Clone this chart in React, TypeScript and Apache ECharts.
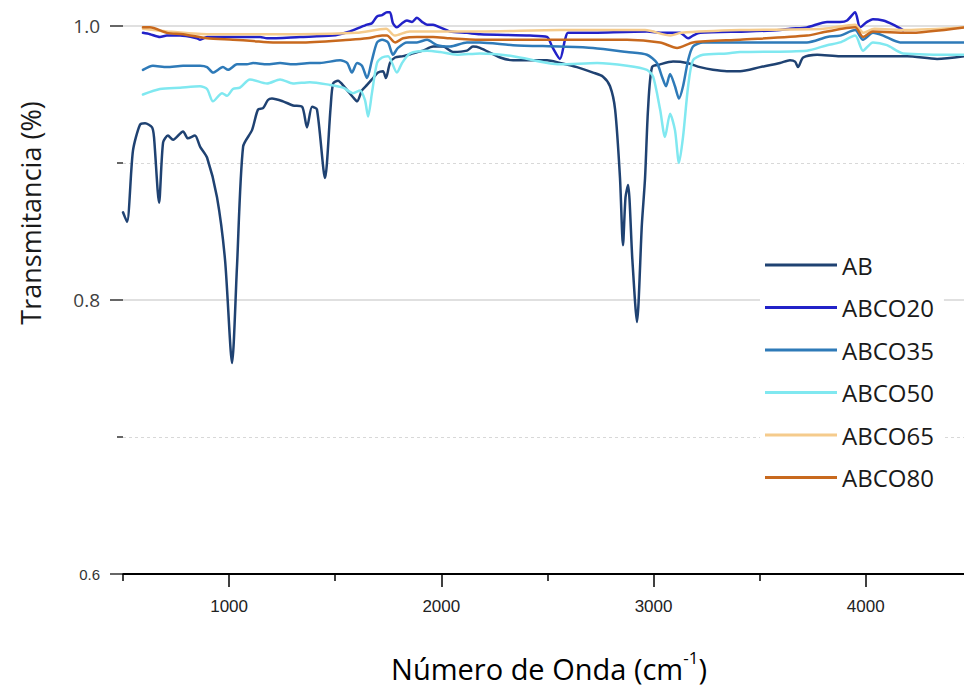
import React, { useEffect, useRef } from "react";
import * as echarts from "echarts";

// [wavenumber (cm-1), transmittance]
const AB: [number, number][] = [
  [500, 0.864], [519, 0.857], [547, 0.909], [580, 0.928], [604, 0.929], [637, 0.926], [646, 0.919],
  [670, 0.871], [689, 0.915], [712, 0.92], [736, 0.917], [783, 0.923], [806, 0.918], [839, 0.92],
  [863, 0.912], [896, 0.904], [943, 0.875], [981, 0.829], [1014, 0.754], [1037, 0.824], [1066, 0.912],
  [1108, 0.924], [1136, 0.939], [1160, 0.94], [1183, 0.946], [1202, 0.947], [1254, 0.945], [1301, 0.942],
  [1344, 0.941], [1367, 0.926], [1391, 0.941], [1414, 0.939], [1452, 0.889], [1478, 0.94], [1490, 0.958],
  [1513, 0.96], [1546, 0.955], [1584, 0.948], [1603, 0.945], [1626, 0.953], [1650, 0.957], [1673, 0.961],
  [1702, 0.966], [1725, 0.967], [1739, 0.962], [1758, 0.973], [1782, 0.977], [1820, 0.978], [1867, 0.98],
  [1914, 0.982], [1961, 0.985], [2008, 0.985], [2055, 0.981], [2121, 0.982], [2149, 0.985], [2182, 0.984],
  [2277, 0.977], [2338, 0.975], [2498, 0.975], [2559, 0.973], [2639, 0.97], [2715, 0.966], [2762, 0.963],
  [2795, 0.956], [2819, 0.939], [2842, 0.889], [2856, 0.84], [2868, 0.875], [2880, 0.884], [2900, 0.83],
  [2922, 0.784], [2945, 0.855], [2960, 0.889], [2974, 0.939], [2993, 0.97], [3031, 0.972], [3092, 0.974],
  [3158, 0.973], [3219, 0.97], [3280, 0.968], [3346, 0.967], [3408, 0.967], [3502, 0.97], [3596, 0.973],
  [3643, 0.975], [3667, 0.974], [3681, 0.97], [3705, 0.977], [3771, 0.979], [3879, 0.978], [4034, 0.978],
  [4195, 0.978], [4336, 0.976], [4463, 0.978],
];

const ABCO20: [number, number][] = [
  [594, 0.995], [627, 0.994], [674, 0.992], [707, 0.993], [769, 0.993], [849, 0.991], [863, 0.99],
  [896, 0.992], [1018, 0.992], [1146, 0.992], [1179, 0.991], [1334, 0.992], [1485, 0.993], [1570, 0.996],
  [1617, 0.999], [1650, 1.001], [1673, 1.002], [1697, 1.007], [1721, 1.008], [1744, 1.01], [1758, 1.01],
  [1772, 1.002], [1791, 0.999], [1815, 1.002], [1838, 1.004], [1862, 1.003], [1885, 1.006], [1909, 1.003],
  [1933, 1.001], [1961, 1.001], [1994, 0.999], [2041, 0.996], [2121, 0.995], [2182, 0.994], [2418, 0.993],
  [2498, 0.992], [2522, 0.985], [2559, 0.976], [2583, 0.99], [2597, 0.995], [2654, 0.995], [2969, 0.996],
  [3045, 0.995], [3125, 0.995], [3163, 0.991], [3186, 0.993], [3219, 0.995], [3441, 0.996], [3596, 0.997],
  [3643, 0.998], [3723, 0.999], [3818, 1.003], [3846, 1.003], [3879, 1.003], [3912, 1.004], [3950, 1.01],
  [3973, 0.999], [4006, 1.003], [4034, 1.005], [4082, 1.004], [4129, 1.001], [4176, 0.997],
];

const ABCO35: [number, number][] = [
  [594, 0.968], [641, 0.971], [707, 0.97], [783, 0.971], [863, 0.971], [896, 0.97], [924, 0.966],
  [971, 0.97], [995, 0.968], [1037, 0.972], [1084, 0.972], [1113, 0.973], [1179, 0.972], [1240, 0.973],
  [1301, 0.972], [1381, 0.973], [1428, 0.973], [1523, 0.975], [1556, 0.973], [1579, 0.966], [1603, 0.973],
  [1626, 0.971], [1650, 0.962], [1673, 0.975], [1697, 0.988], [1721, 0.99], [1749, 0.988], [1772, 0.979],
  [1796, 0.984], [1838, 0.988], [1885, 0.988], [1933, 0.99], [1980, 0.986], [2041, 0.985], [2121, 0.988],
  [2182, 0.988], [2338, 0.986], [2559, 0.985], [2715, 0.984], [2875, 0.981], [2969, 0.979], [3016, 0.973],
  [3040, 0.963], [3059, 0.956], [3078, 0.965], [3101, 0.956], [3120, 0.947], [3139, 0.956], [3163, 0.975],
  [3186, 0.985], [3233, 0.988], [3346, 0.988], [3408, 0.988], [3723, 0.988], [3818, 0.992], [3879, 0.993],
  [3950, 0.997], [3987, 0.99], [4034, 0.995], [4082, 0.993], [4162, 0.988], [4223, 0.988], [4463, 0.988],
];

const ABCO50: [number, number][] = [
  [594, 0.95], [674, 0.954], [769, 0.955], [863, 0.956], [896, 0.954], [924, 0.945], [967, 0.951],
  [990, 0.949], [1018, 0.954], [1051, 0.955], [1098, 0.961], [1179, 0.958], [1240, 0.961], [1301, 0.958],
  [1381, 0.959], [1475, 0.957], [1537, 0.955], [1584, 0.951], [1617, 0.953], [1640, 0.946], [1655, 0.934],
  [1673, 0.951], [1697, 0.973], [1721, 0.977], [1749, 0.978], [1791, 0.966], [1815, 0.973], [1853, 0.98],
  [1933, 0.982], [1994, 0.981], [2074, 0.979], [2182, 0.98], [2338, 0.978], [2559, 0.972], [2734, 0.973],
  [2875, 0.971], [2969, 0.968], [2998, 0.963], [3031, 0.939], [3054, 0.919], [3078, 0.936], [3101, 0.924],
  [3120, 0.9], [3139, 0.919], [3163, 0.956], [3186, 0.975], [3233, 0.979], [3346, 0.98], [3408, 0.981],
  [3723, 0.982], [3818, 0.986], [3879, 0.988], [3950, 0.993], [3987, 0.982], [4034, 0.988], [4100, 0.986],
  [4176, 0.98], [4463, 0.979],
];

const ABCO65: [number, number][] = [
  [594, 0.998], [707, 0.996], [896, 0.994], [1334, 0.994], [1600, 0.995], [1740, 0.998], [1780, 0.993],
  [1850, 0.996], [2182, 0.996], [2559, 0.997], [2960, 0.997], [3080, 0.993], [3130, 0.995], [3408, 0.997],
  [3800, 0.998], [3950, 1.001], [3990, 0.995], [4040, 0.998], [4195, 0.997], [4463, 0.999],
];

const ABCO80: [number, number][] = [
  [594, 0.999], [627, 0.999], [707, 0.995], [783, 0.994], [896, 0.991], [1018, 0.99], [1113, 0.989],
  [1207, 0.988], [1334, 0.988], [1570, 0.99], [1650, 0.991], [1721, 0.993], [1744, 0.993], [1782, 0.988],
  [1820, 0.991], [1885, 0.992], [1961, 0.992], [2041, 0.991], [2182, 0.99], [2559, 0.99], [2875, 0.99],
  [3031, 0.988], [3111, 0.984], [3186, 0.988], [3408, 0.99], [3723, 0.993], [3818, 0.996], [3950, 0.999],
  [3987, 0.992], [4034, 0.996], [4195, 0.995], [4463, 0.999],
];

const SERIES_NAMES = ["AB", "ABCO20", "ABCO35", "ABCO50", "ABCO65", "ABCO80"];
const SERIES_DATA = [AB, ABCO20, ABCO35, ABCO50, ABCO65, ABCO80];
const SERIES_COLORS = ["#1f4272", "#2222c8", "#2e7ab8", "#80e8f0", "#f5cb8c", "#c8691e"];

const X_MAJOR = [1000, 2000, 3000, 4000];
const X_MINOR = [500, 1500, 2500, 3500];

export default function App() {
  const ref = useRef<HTMLDivElement>(null);
  useEffect(() => {
    if (!ref.current) return;
    const chart = echarts.init(ref.current, null, { renderer: "svg" });
    chart.setOption({
      animation: false,
      backgroundColor: "#ffffff",
      grid: { left: 123, right: 0, top: 26, bottom: 114, containLabel: false },
      xAxis: [
        {
          type: "value",
          min: 500,
          max: 4463,
          position: "bottom",
          axisLine: { show: true, onZero: false, lineStyle: { color: "#000", width: 2 } },
          axisTick: { show: true, customValues: X_MAJOR, length: 13, lineStyle: { color: "#000", width: 1.5 } },
          axisLabel: {
            customValues: X_MAJOR,
            margin: 24,
            color: "#222",
            fontFamily: "Liberation Sans",
            fontSize: 17,
            formatter: (v: number) => String(Math.round(v)),
          },
          splitLine: { show: false },
        },
        {
          type: "value",
          min: 500,
          max: 4463,
          position: "bottom",
          axisLine: { show: false, onZero: false },
          axisTick: { show: true, customValues: X_MINOR, length: 7, lineStyle: { color: "#000", width: 1.5 } },
          axisLabel: { show: false },
          splitLine: { show: false },
        },
      ],
      yAxis: {
        type: "value",
        min: 0.6,
        max: 1.0,
        interval: 0.2,
        axisLine: { show: false },
        axisTick: { show: true, length: 13, lineStyle: { color: "#333", width: 1.5 } },
        minorTick: { show: true, splitNumber: 2, length: 6, lineStyle: { color: "#333", width: 1.5 } },
        splitLine: { show: true, lineStyle: { color: "#d6d6d6", width: 1.5 } },
        minorSplitLine: { show: true, lineStyle: { color: "#d8d8d8", width: 1, type: [3, 3] } },
        axisLabel: {
          margin: 23,
          formatter: (v: number) =>
            Math.abs(v - 0.6) < 1e-6 ? "{s|0.6}" : "{b|" + v.toFixed(1) + "}",
          rich: {
            s: { fontFamily: "Liberation Sans", fontSize: 15, color: "#333" },
            b: { fontFamily: "Open Sans", fontSize: 19, color: "#404040" },
          },
        },
      },
      legend: {
        data: SERIES_NAMES,
        orient: "vertical",
        left: 760,
        top: 243,
        padding: [10, 10, 10, 5],
        itemGap: 18.5,
        itemWidth: 72,
        itemHeight: 3,
        icon: "rect",
        backgroundColor: "#ffffff",
        textStyle: { fontFamily: "Open Sans", fontSize: 24, color: "#1a1a1a", lineHeight: 24 },
      },
      graphic: [
        {
          type: "text",
          x: 30,
          y: 213,
          rotation: Math.PI / 2,
          style: {
            text: "Transmitancia (%)",
            fontFamily: "Open Sans",
            fontSize: 27,
            fill: "#1a1a1a",
            textAlign: "center",
            textVerticalAlign: "middle",
          },
        },
        {
          type: "text",
          x: 549,
          y: 666,
          style: {
            text: "{a|Número de Onda (cm}{b|-1}{a|)}",
            textAlign: "center",
            textVerticalAlign: "middle",
            rich: {
              a: { fontFamily: "Open Sans", fontSize: 29, color: "#1a1a1a", lineHeight: 34, verticalAlign: "bottom" },
              b: { fontFamily: "Open Sans", fontSize: 17, color: "#1a1a1a", lineHeight: 18, verticalAlign: "top" },
            },
          },
        },
      ],
      series: SERIES_DATA.map((d, i) => ({
        name: SERIES_NAMES[i],
        type: "line",
        xAxisIndex: 0,
        data: d,
        showSymbol: false,
        symbol: "none",
        clip: false,
        smooth: 0.25,
        color: SERIES_COLORS[i],
        lineStyle: { color: SERIES_COLORS[i], width: 2.5, join: "round", cap: "round" },
        emphasis: { disabled: true },
        z: 2 + i,
      })),
    });
    return () => chart.dispose();
  }, []);
  return (
    <div
      ref={ref}
      style={{ position: "fixed", left: 0, top: 0, width: 964, height: 688, background: "#fff" }}
    />
  );
}
